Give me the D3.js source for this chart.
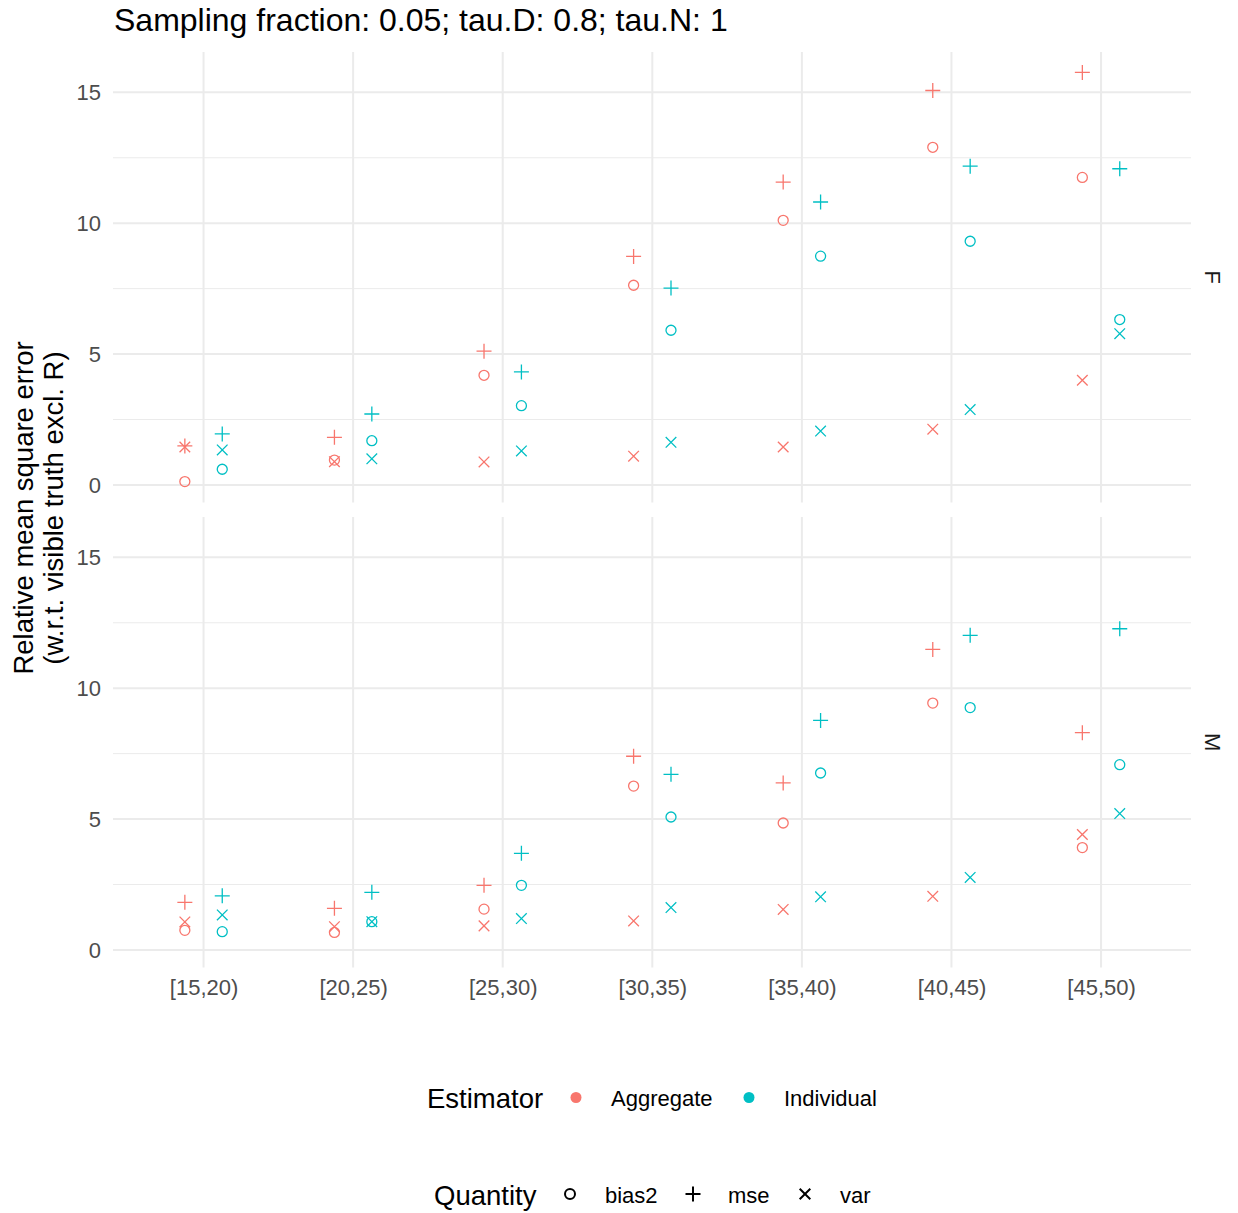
<!DOCTYPE html>
<html><head><meta charset="utf-8">
<script src="https://cdn.jsdelivr.net/npm/d3@7"></script>
<style>body{margin:0;background:#fff;} svg{display:block;font-family:"Liberation Sans",Arial,sans-serif;}</style>
</head><body>
<script>
const categories = ["[15,20)","[20,25)","[25,30)","[30,35)","[35,40)","[40,45)","[45,50)"];
const panels = ["F","M"];
const estimators = ["Aggregate","Individual"];
const quantities = ["bias2","mse","var"];
const yTicks = [0,5,10,15];
// values per category, for panel F
const F_Aggregate_bias2 = [0.13,0.95,4.19,7.63,10.11,12.9,11.75];
const F_Aggregate_mse   = [1.49,1.82,5.11,8.73,11.57,15.07,15.76];
const F_Aggregate_var   = [1.45,0.89,0.88,1.1,1.45,2.13,4.0];
const F_Individual_bias2= [0.6,1.69,3.03,5.91,8.74,9.31,6.32];
const F_Individual_mse  = [1.95,2.71,4.32,7.52,10.81,12.18,12.08];
const F_Individual_var  = [1.34,1.0,1.3,1.63,2.06,2.88,5.78];
// panel M
const M_Aggregate_bias2 = [0.75,0.67,1.56,6.26,4.85,9.43,3.91];
const M_Aggregate_mse   = [1.82,1.59,2.47,7.4,6.38,11.48,8.3];
const M_Aggregate_var   = [1.07,0.89,0.92,1.11,1.55,2.05,4.41];
const M_Individual_bias2= [0.7,1.08,2.47,5.08,6.76,9.26,7.08];
const M_Individual_mse  = [2.07,2.2,3.69,6.71,8.77,12.02,12.27];
const M_Individual_var  = [1.34,1.08,1.2,1.62,2.03,2.77,5.21];

const series = {
  F:{Aggregate:{bias2:F_Aggregate_bias2,mse:F_Aggregate_mse,var:F_Aggregate_var},
     Individual:{bias2:F_Individual_bias2,mse:F_Individual_mse,var:F_Individual_var}},
  M:{Aggregate:{bias2:M_Aggregate_bias2,mse:M_Aggregate_mse,var:M_Aggregate_var},
     Individual:{bias2:M_Individual_bias2,mse:M_Individual_mse,var:M_Individual_var}}
};
const colors = {Aggregate:"#F8766D", Individual:"#00BFC4"};

const W=1238,H=1213;
const svg=d3.select("body").append("svg").attr("width",W).attr("height",H);
const left=113.8,right=1190.8;
const panelTop=[52,517], panelH=450.5;

const x=d3.scalePoint().domain(categories).range([left,right]).padding(0.6);
const dodge={Aggregate:-18.7, Individual:18.7};

svg.append("text").attr("x",114).attr("y",31).attr("font-size",32).attr("fill","#000")
  .text("Sampling fraction: 0.05; tau.D: 0.8; tau.N: 1");

function shape(g,q,c,sw){
  sw=sw||1.3;
  if(q==="bias2"){
    g.append("circle").attr("r",5).attr("fill","none").attr("stroke",c).attr("stroke-width",sw);
  } else if(q==="mse"){
    g.append("path").attr("d","M-7.5,0H7.5M0,-7.5V7.5").attr("stroke",c).attr("stroke-width",sw).attr("fill","none");
  } else {
    g.append("path").attr("d","M-5.3,-5.3L5.3,5.3M-5.3,5.3L5.3,-5.3").attr("stroke",c).attr("stroke-width",sw).attr("fill","none");
  }
}

panels.forEach((p,pi)=>{
  const top=panelTop[pi];
  const y=d3.scaleLinear().domain([-0.67,16.54]).range([top+panelH,top]);
  const g=svg.append("g");
  [2.5,7.5,12.5].forEach(v=>{
    g.append("line").attr("x1",113).attr("x2",1191).attr("y1",y(v)).attr("y2",y(v))
     .attr("stroke","#ebebeb").attr("stroke-width",1);
  });
  yTicks.forEach(v=>{
    g.append("line").attr("x1",113).attr("x2",1191).attr("y1",y(v)).attr("y2",y(v))
     .attr("stroke","#ebebeb").attr("stroke-width",2);
  });
  categories.forEach(cat=>{
    g.append("line").attr("x1",x(cat)).attr("x2",x(cat)).attr("y1",top).attr("y2",top+panelH)
     .attr("stroke","#ebebeb").attr("stroke-width",2);
  });
  const ax=d3.axisLeft(y).tickValues(yTicks).tickSize(0).tickPadding(0).tickFormat(d3.format("d"));
  const ag=svg.append("g").attr("transform",`translate(${101},0)`).call(ax);
  ag.select(".domain").remove();
  ag.selectAll("text").attr("font-size",22).attr("fill","#4d4d4d").attr("font-family","Liberation Sans, Arial, sans-serif");
  svg.append("text").attr("transform",`translate(1205,${top+panelH/2}) rotate(90)`)
    .attr("text-anchor","middle").attr("font-size",22).attr("fill","#1a1a1a").text(p);
  estimators.forEach(e=>{
    quantities.forEach(q=>{
      series[p][e][q].forEach((v,i)=>{
        const pg=svg.append("g").attr("transform",`translate(${x(categories[i])+dodge[e]},${y(v)})`);
        shape(pg,q,colors[e]);
      });
    });
  });
});

const xa=d3.axisBottom(x).tickSize(0).tickPadding(0);
const xg=svg.append("g").attr("transform",`translate(0,${994.5})`).call(xa);
xg.select(".domain").remove();
xg.selectAll("text").attr("dy",0).attr("font-size",22).attr("fill","#4d4d4d").attr("font-family","Liberation Sans, Arial, sans-serif");

svg.append("text").attr("transform",`translate(33,508) rotate(-90)`).attr("text-anchor","middle")
  .attr("font-size",27.5).attr("fill","#000").text("Relative mean square error");
svg.append("text").attr("transform",`translate(62.5,508) rotate(-90)`).attr("text-anchor","middle")
  .attr("font-size",27.5).attr("fill","#000").text("(w.r.t. visible truth excl. R)");

const leg1=svg.append("g");
leg1.append("text").attr("x",427).attr("y",1108).attr("font-size",27.5).text("Estimator");
[["Aggregate",576,611],["Individual",749,784]].forEach(([e,cx,tx])=>{
  leg1.append("circle").attr("cx",cx).attr("cy",1097.5).attr("r",5.5).attr("fill",colors[e]);
  leg1.append("text").attr("x",tx).attr("y",1105.5).attr("font-size",22).text(e);
});
const leg2=svg.append("g");
leg2.append("text").attr("x",434).attr("y",1205).attr("font-size",27.5).text("Quantity");
[["bias2",570,605],["mse",693,728],["var",805,840]].forEach(([q,cx,tx])=>{
  const g=leg2.append("g").attr("transform",`translate(${cx},1194)`);
  shape(g,q,"#000",2);
  leg2.append("text").attr("x",tx).attr("y",1202.5).attr("font-size",22).text(q);
});
</script>
</body></html>
